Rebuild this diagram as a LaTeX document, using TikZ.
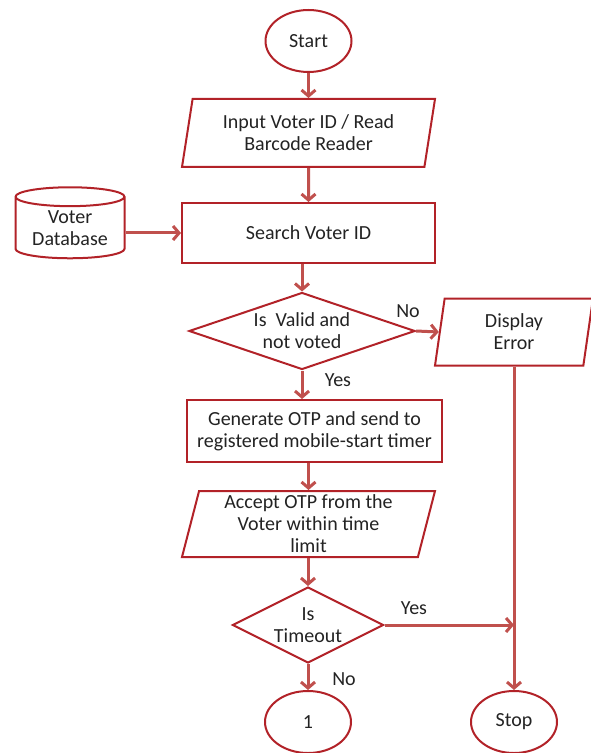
\documentclass[tikz,border=0pt]{standalone}
\usepackage{fontspec}
\setmainfont{Carlito}
\usetikzlibrary{shapes.geometric,arrows.meta}
\definecolor{boxred}{RGB}{178,34,40}
\definecolor{linered}{RGB}{192,80,77}
\definecolor{txtgray}{RGB}{35,35,35}
\begin{document}
\begin{tikzpicture}[x=0.5pt,y=-0.5pt,
    every node/.style={font=\fontsize{10}{11}\selectfont, text=txtgray},
    shp/.style={draw=boxred, line width=1pt, fill=white, inner sep=0pt, align=center},
    term/.style={shp, ellipse, minimum width=43pt, minimum height=31pt},
    proc/.style={shp, rectangle, minimum width=127.5pt},
    io/.style={shp, trapezium, trapezium stretches body=true,
        trapezium left angle=73.6, trapezium right angle=106.4},
    decide/.style={shp, diamond},
    store/.style={shp, cylinder, shape border rotate=90, aspect=0.25},
    flow/.style={draw=linered, line width=1.5pt, -{Straight Barb[length=3pt,width=7pt]}},
    lbl/.style={inner sep=0pt}]

    \useasboundingbox (0,0) rectangle (590,753);

    \node[term] (start) at (308.5,41) {Start};
    \node[io, minimum width=126.5pt, minimum height=34pt] (input) at (308.5,133) {Input Voter ID / Read\\Barcode Reader};
    \node[proc, minimum width=126.5pt, minimum height=30pt] (search) at (308.5,233) {Search Voter ID};
    \node[store, minimum width=54.5pt, minimum height=35.5pt] (db) at (70,228) {Voter\\Database};
    \node[decide, aspect=2.9, minimum width=113pt, minimum height=38.5pt] (valid) at (302,331) {Is\ \ Valid and\\not voted};
    \node[io, minimum width=79pt, minimum height=33.5pt, trapezium left angle=75, trapezium right angle=105] (display) at (514,332) {Display\\Error};
    \node[proc, minimum width=127.5pt, minimum height=31pt] (otp) at (314.5,431) {Generate OTP and send to\\registered mobile-start timer};
    \node[io, minimum width=126.5pt, minimum height=33pt] (accept) at (308.5,524) {Accept OTP from the\\Voter within time\\limit};
    \node[decide, aspect=2, minimum width=75.5pt, minimum height=38pt] (timeout) at (308,625) {Is\\Timeout};
    \node[term] (one) at (308,722) {1};
    \node[term] (stop) at (514,722) {Stop};

    \coordinate (join) at (display.south |- timeout.east);

    \node[lbl] (novalid) at (408,311) {No};
    \node[lbl] (yesvalid) at (338,380) {Yes};
    \node[lbl] (yestime) at (414,608) {Yes};
    \node[lbl] (notime) at (344,679) {No};

    \draw[flow] (start) -- (input);
    \draw[flow] (input) -- (search);
    \draw[flow] (db.east |- search.west) -- (search.west);
    \draw[flow] (search.south -| valid.north) -- (valid.north);
    \draw[flow] (valid.east) -- (display.west);
    \draw[flow] (valid.south) -- (valid.south |- otp.north);
    \draw[flow] (otp.south -| accept.north) -- (accept.north);
    \draw[flow] (accept.south -| timeout.north) -- (timeout.north);
    \draw[flow] (timeout.south) -- (one.north);
    \draw[flow] (timeout.east) -- (join);
    \draw[flow] (display.south -| stop.north) -- (stop.north);

\end{tikzpicture}
\end{document}
